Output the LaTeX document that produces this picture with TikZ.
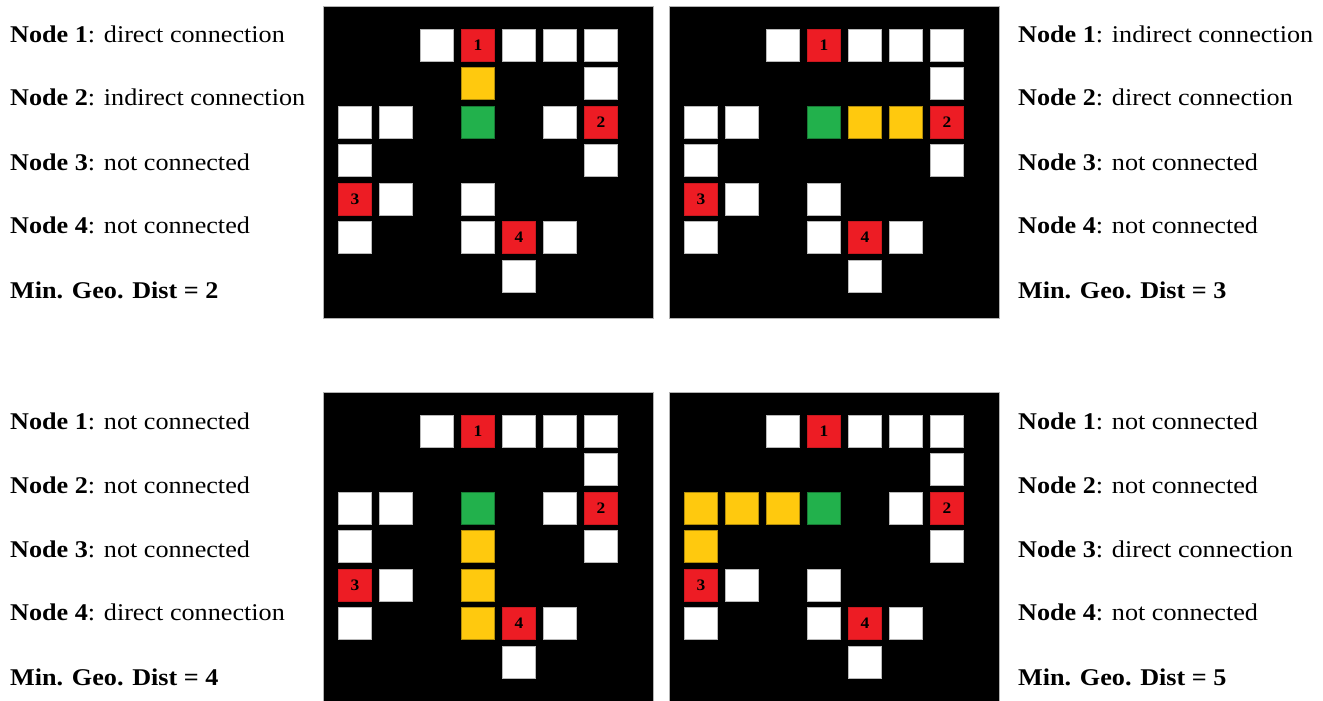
\documentclass[tikz,border=0pt]{standalone}
\usepackage{fontspec}
\setmainfont{Liberation Serif}[FakeStretch=1.09]
\definecolor{cellred}{RGB}{237,28,36}
\definecolor{cellyellow}{RGB}{255,201,14}
\definecolor{cellgreen}{RGB}{34,177,76}
\tikzset{
  cell/.style={minimum width=33pt, minimum height=32pt, inner sep=0pt, line width=0.8pt},
  freecell/.style={cell, fill=white, draw=gray!55},
  targetcell/.style={cell, fill=cellred, draw=cellred!85!black,
    font=\fontsize{16}{16}\selectfont\bfseries},
  pathcell/.style={cell, fill=cellyellow, draw=cellyellow!70!black},
  startcell/.style={cell, fill=cellgreen, draw=cellgreen!70!black},
  board/.style={fill=black, draw=gray!60, line width=1pt, inner sep=0pt,
    minimum width=330pt, minimum height=312pt, anchor=north west},
  infotext/.style={anchor=base west, inner sep=0pt, font=\fontsize{24}{28}\selectfont}
}
% #1 name, #2/#3 top left corner, #4 extra free cells, #5 path cells
\newcommand{\gridboard}[5]{%
  \begin{scope}[shift={(#2,#3)}]
    \node[board] (#1) at (0,0) {};
    \foreach \c/\r in {2/0,4/0,5/0,6/0,6/1,6/3,1/4,0/5,5/5,4/6,#4}
      \node[freecell] (#1-\c-\r) at ({32+41*\c},{39+38.5*\r}) {};
    \foreach \c/\r in {#5}
      \node[pathcell] (#1-\c-\r) at ({32+41*\c},{39+38.5*\r}) {};
    \foreach \c/\r/\n in {3/0/1,6/2/2,0/4/3,4/5/4}
      \node[targetcell] (#1-n\n) at ({32+41*\c},{39+38.5*\r}) {\n};
    \node[startcell] (#1-start) at ({32+41*3},{39+38.5*2}) {};
  \end{scope}}

\begin{document}
\begin{tikzpicture}[x=1pt,y=-1pt]
\useasboundingbox (0,0) rectangle (1323,701);

% boards
\gridboard{ba}{323}{6}{0/2,1/2,5/2,0/3,3/4,3/5}{3/1}
\gridboard{bb}{669}{6}{0/2,1/2,0/3,3/4,3/5}{4/2,5/2}
\gridboard{bc}{323}{392}{0/2,1/2,5/2,0/3}{3/3,3/4,3/5}
\gridboard{bd}{669}{392}{5/2,3/4,3/5}{0/2,1/2,2/2,0/3}

% top left
\node[infotext] (ta1) at (10,43) {\textbf{Node 1}: direct connection};
\node[infotext] (ta2) at (10,106) {\textbf{Node 2}: indirect connection};
\node[infotext] (ta3) at (10,170) {\textbf{Node 3}: not connected};
\node[infotext] (ta4) at (10,233) {\textbf{Node 4}: not connected};
\node[infotext] (ta5) at (10,298) {\textbf{Min. Geo. Dist = 2}};

% top right
\node[infotext] (tb1) at (1018,43) {\textbf{Node 1}: indirect connection};
\node[infotext] (tb2) at (1018,106) {\textbf{Node 2}: direct connection};
\node[infotext] (tb3) at (1018,170) {\textbf{Node 3}: not connected};
\node[infotext] (tb4) at (1018,233) {\textbf{Node 4}: not connected};
\node[infotext] (tb5) at (1018,298) {\textbf{Min. Geo. Dist = 3}};

% bottom left
\node[infotext] (tc1) at (10,429) {\textbf{Node 1}: not connected};
\node[infotext] (tc2) at (10,493) {\textbf{Node 2}: not connected};
\node[infotext] (tc3) at (10,557) {\textbf{Node 3}: not connected};
\node[infotext] (tc4) at (10,620) {\textbf{Node 4}: direct connection};
\node[infotext] (tc5) at (10,685) {\textbf{Min. Geo. Dist = 4}};

% bottom right
\node[infotext] (td1) at (1018,429) {\textbf{Node 1}: not connected};
\node[infotext] (td2) at (1018,493) {\textbf{Node 2}: not connected};
\node[infotext] (td3) at (1018,557) {\textbf{Node 3}: direct connection};
\node[infotext] (td4) at (1018,620) {\textbf{Node 4}: not connected};
\node[infotext] (td5) at (1018,685) {\textbf{Min. Geo. Dist = 5}};
\end{tikzpicture}
\end{document}
